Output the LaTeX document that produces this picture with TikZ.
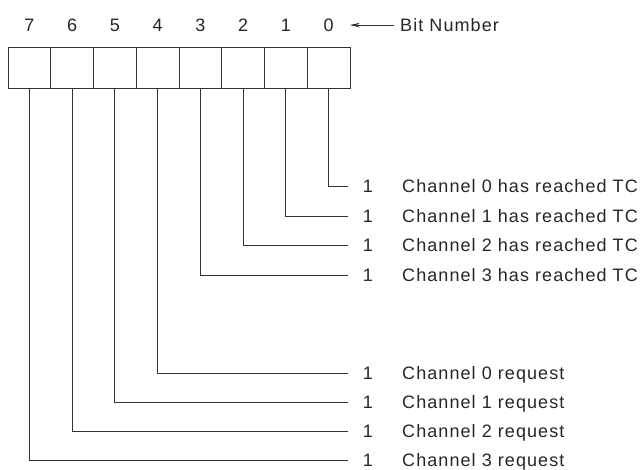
\documentclass[tikz,border=0pt]{standalone}
\usepackage{fontspec}
\setmainfont{Liberation Sans}[LetterSpace=6]
\usetikzlibrary{arrows.meta}
\begin{document}
\begin{tikzpicture}[x=1pt,y=-1pt,
  bitbox/.style={draw=black!80, line width=0.8pt, minimum width=42.75pt, minimum height=41pt, inner sep=0pt, outer sep=0pt},
  wire/.style={draw=black!80, line width=0.8pt},
  lbl/.style={font=\fontsize{18}{20}\selectfont, text=black!85, inner sep=0pt}]
\useasboundingbox (0,0) rectangle (643,469);
\foreach \b in {0,...,7} {
  \pgfmathsetmacro\cx{8+42.75*(7-\b+0.5)}
  \node[bitbox] (b\b) at (\cx,67.5) {};
  \node[lbl, anchor=base] (n\b) at (\cx,31.5) {\b};
}
\node[lbl, anchor=base west] (bn) at (400,31.5) {Bit Number};
\draw[wire, -{Stealth[length=10pt,width=4.5pt]}] ([xshift=-6pt]bn.west) -- ([xshift=16pt]n0.east |- bn.west);
\foreach \b/\y/\t in {0/186/Channel 0 has reached TC, 1/216/Channel 1 has reached TC, 2/245/Channel 2 has reached TC, 3/275/Channel 3 has reached TC, 4/373/Channel 0 request, 5/402/Channel 1 request, 6/431/Channel 2 request, 7/460/Channel 3 request} {
  \coordinate (e\b) at (348,\y);
  \node[lbl, anchor=base] (o\b) at (368,\y+6.5) {1};
  \node[lbl, anchor=base west] (t\b) at (402,\y+6.5) {\t};
  \draw[wire] (b\b.south) |- (e\b);
}
\end{tikzpicture}
\end{document}
